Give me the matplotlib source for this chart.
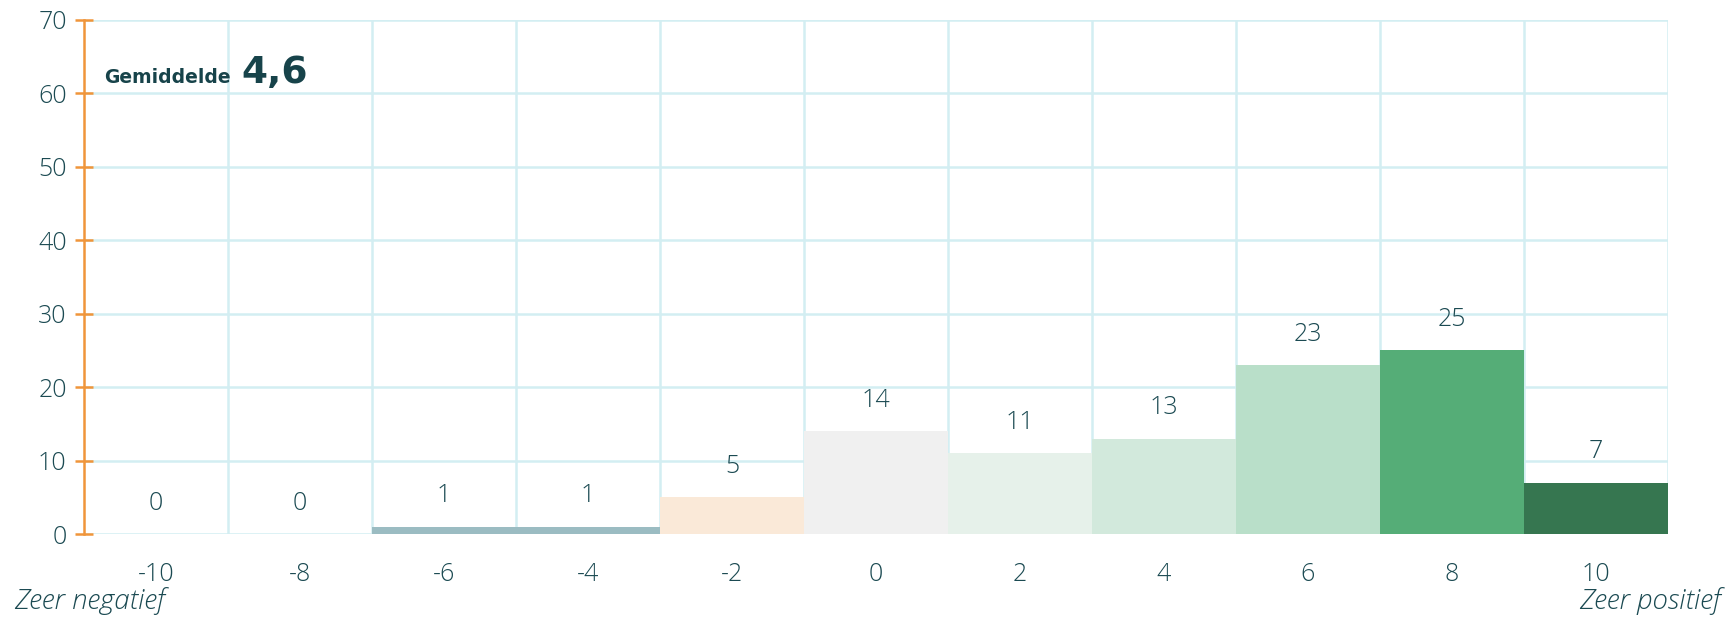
import numpy as np
import matplotlib.pyplot as plt

scores = [-10, -8, -6, -4, -2, 0, 2, 4, 6, 8, 10]
counts = [0, 0, 1, 1, 5, 14, 11, 13, 23, 25, 7]
colors = ['#9bbcc2', '#9bbcc2', '#9bbcc2', '#9bbcc2', '#fae9d8', '#f0f0f0',
          '#e6f1ea', '#d2e9dc', '#b9dfc9', '#55ad77', '#367650']
mean_label = '4,6'

text_col = '#1b4a52'
grid_col = '#d3eef2'
orange = '#f0953a'

plt.rcParams['font.family'] = ['Open Sans', 'DejaVu Sans']

fig = plt.figure(figsize=(17.26, 6.19), dpi=100)
ax = fig.add_axes([0.0487, 0.1373, 0.9177, 0.8304])

ax.bar(scores, counts, width=2, color=colors, zorder=3, linewidth=0)

# grid
for y in range(0, 71, 10):
    ax.axhline(y, color=grid_col, lw=1.8, zorder=1)
for x in range(-9, 12, 2):
    ax.axvline(x, color=grid_col, lw=1.8, zorder=1)

for x, c in zip(scores, counts):
    ax.text(x, c + 4.2, str(c), ha='center', va='center', fontsize=18,
            fontweight='light', color=text_col, zorder=4)

ax.set_xlim(-11, 11)
ax.set_ylim(0, 70)
ax.set_yticks(range(0, 71, 10))
ax.set_xticks(scores)
ax.set_xticklabels([str(s) for s in scores])

for s in ['top', 'right', 'bottom']:
    ax.spines[s].set_visible(False)
ax.spines['left'].set_color(orange)
ax.spines['left'].set_linewidth(1.8)

ax.tick_params(axis='y', direction='inout', length=13, width=1.8, color=orange,
               labelcolor=text_col, labelsize=18, pad=6)
ax.tick_params(axis='x', length=0, labelcolor=text_col, labelsize=18, pad=20)
for lab in ax.get_xticklabels() + ax.get_yticklabels():
    lab.set_fontweight('light')

fig.text(0.0606, 0.866, 'Gemiddelde', fontsize=13.5, fontweight='bold',
         color='#17434a', va='baseline', family=['DejaVu Sans'])
fig.text(0.14, 0.866, mean_label, fontsize=27, fontweight='bold',
         color='#17434a', va='baseline', family=['DejaVu Sans'])

fig.text(0.008, 0.016, 'Zeer negatief', fontsize=20, fontstyle='italic',
         fontweight='light', color=text_col)
fig.text(0.997, 0.016, 'Zeer positief', fontsize=20, fontstyle='italic',
         fontweight='light', color=text_col, ha='right')

plt.savefig('out.png', dpi=100)
plt.close()
